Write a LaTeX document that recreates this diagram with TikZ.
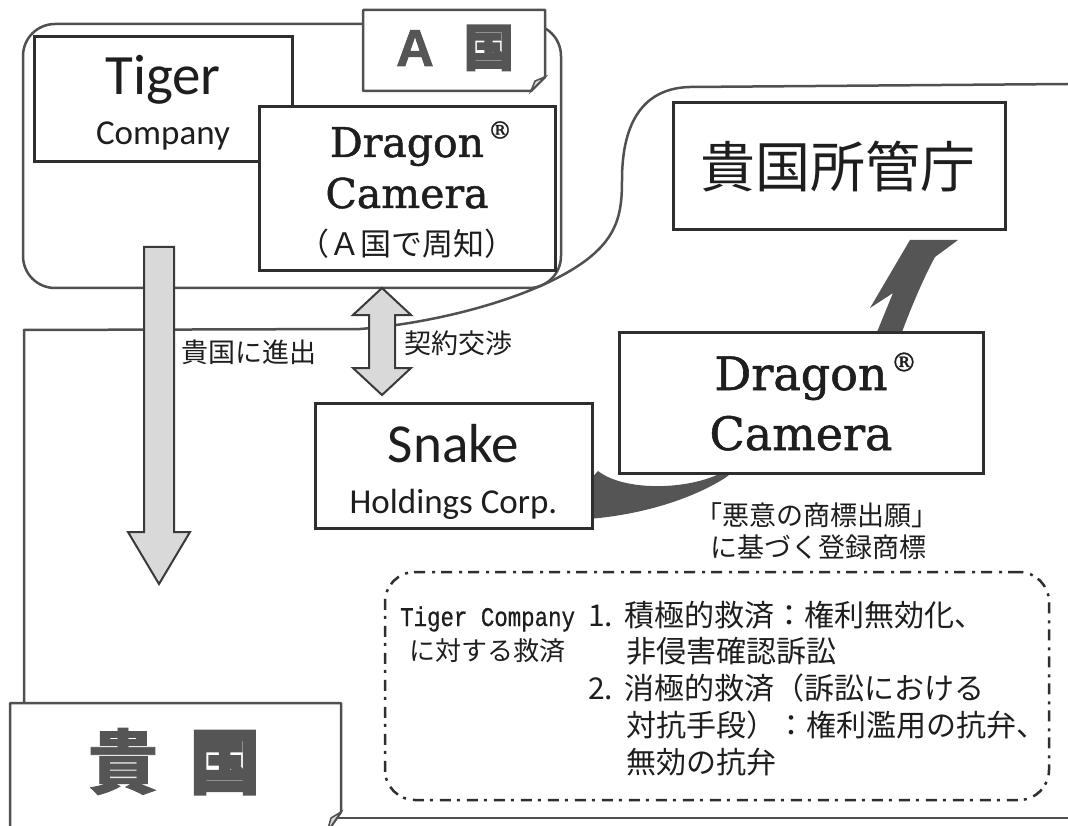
\documentclass[tikz,border=0pt]{standalone}
\usepackage{fontspec}
\newfontfamily\carl{Carlito}
\newfontfamily\dser{DejaVu Serif}[FakeBold=1.2]
\newfontfamily\jp{Noto Sans CJK JP}
\newfontfamily\jpb{Noto Sans CJK JP}[FakeBold=1.2]
\newfontfamily\jpbb{Noto Sans CJK JP}[FakeBold=2.9]
\newfontfamily\monoc{Liberation Mono}[FakeStretch=0.83,FakeBold=0.6]
\newfontfamily\lsans{Liberation Sans}[FakeBold=1.5]
\newcommand\fsz[1]{\fontsize{#1}{#1}\selectfont}
\definecolor{boxc}{HTML}{2E2E2E}
\definecolor{frmc}{HTML}{505050}
\definecolor{arrc}{HTML}{3A3A3A}
\definecolor{lightg}{HTML}{D9D9D9}
\definecolor{darkg}{HTML}{555555}
\definecolor{txtc}{HTML}{1E1E1E}
\definecolor{tagc}{HTML}{555555}
\begin{document}
\begin{tikzpicture}[x=1pt,y=-1pt,
  box/.style={draw=boxc,line width=3pt,fill=white,inner sep=0pt},
  frm/.style={draw=frmc,line width=2.5pt},
  lgarrow/.style={draw=arrc,line width=2pt,fill=lightg,line join=miter},
  txt/.style={inner sep=0pt,text=txtc},
  tagbox/.style={draw=frmc,line width=2.5pt,fill=white,line join=round},
]
\useasboundingbox[fill=white] (0,0) rectangle (1068,826);

% ---- Kikoku (your country) frame
\draw[frm] (24,710) -- (24,330) -- (360,329)
  .. controls (450,322) and (560,290) .. (600,248)
  .. controls (620,227) and (622,205) .. (622,180)
  .. controls (622,120) and (645,88) .. (690,87) -- (1068,84);
\draw[frm] (335,818) -- (1068,818);

% ---- A country frame
\draw[frm,rounded corners=32pt] (23,24) rectangle (561,288);

% ---- big grey arrow
\draw[lgarrow] (144,247) -- (174,247) -- (174,532) -- (190,532) -- (159,584)
  -- (128,532) -- (144,532) -- cycle;

% ---- double arrow
\draw[lgarrow] (382,288) -- (411,315) -- (395,315) -- (395,368) -- (411,368)
  -- (382,395) -- (353,368) -- (369,368) -- (369,315) -- (353,315) -- cycle;

% ---- tag A country
\draw[tagbox] (363,10) -- (545,10) -- (545,77) -- (531,91) -- (363,91) -- cycle;
\draw[draw=frmc,line width=1.5pt,fill=lightg] (531,91) -- (535,81) -- (545,77) -- cycle;
\node[txt,anchor=base,text=tagc] (tagA) at (455,66)
  {{\lsans\bfseries\fsz{52}A}\hspace{30pt}{\jpbb\bfseries\fsz{50}国}};

% ---- Tiger box
\node[box,minimum width=258,minimum height=125] (tiger) at (163,99.5) {};
\node[txt,anchor=base,font=\carl\fsz{57}] (tigerT) at (163,95) {Tiger};
\node[txt,anchor=base,font=\carl\fsz{35}] (tigerC) at (163,145) {Company};

% ---- Dragon box (A country)
\node[box,minimum width=296,minimum height=164] (dragA) at (407,189) {};
\node[txt,anchor=base,font=\dser\fsz{41}] (dragA1) at (407,157) {Dragon};
\node[txt,font=\dser\fsz{24}] (regA) at (500,130) {®};
\node[txt,anchor=base,font=\dser\fsz{41}] (dragA2) at (407,208) {Camera};
\node[txt,font=\jp\fsz{31}] (dragA3) at (407,244) {（Ａ国で周知）};

% ---- dark curved arrow
\fill[darkg] (588,519)
  .. controls (640,515) and (690,500) .. (725,478)
  .. controls (800,420) and (880,380) .. (902,332)
  .. controls (912,305) and (925,275) .. (935,257)
  -- (958,240) -- (910,240) -- (870,308) -- (893,293)
  .. controls (888,305) and (882,320) .. (877,332)
  .. controls (850,400) and (760,450) .. (723,472)
  .. controls (690,490) and (625,492) .. (598,471)
  -- (588,482) -- cycle;

% ---- Snake box
\node[box,minimum width=277,minimum height=125] (snake) at (453.5,465.5) {};
\node[txt,anchor=base,font=\carl\fsz{55}] (snake1) at (453.5,462) {Snake};
\node[txt,anchor=base,font=\carl\fsz{35}] (snake2) at (453.5,513) {Holdings Corp.};

% ---- Dragon box (registered)
\node[box,minimum width=364,minimum height=141] (dragB) at (801,402.5) {};
\node[txt,anchor=base,font=\dser\fsz{46}] (dragB1) at (801,390) {Dragon};
\node[txt,font=\dser\fsz{26}] (regB) at (904,362) {®};
\node[txt,anchor=base,font=\dser\fsz{46}] (dragB2) at (801,450) {Camera};

% ---- office box
\node[box,minimum width=332,minimum height=127] (office) at (839,166.5) {};
\node[txt,font=\jp\fsz{55}] (officeT) at (838,167) {貴国所管庁};

% ---- labels
\node[txt,anchor=west,font=\jp\fsz{27}] (lab1) at (181,352) {貴国に進出};
\node[txt,anchor=west,font=\jp\fsz{27}] (lab2) at (404,343) {契約交渉};
\node[txt,font=\jp\fsz{27}] (lab3) at (817,515) {「悪意の商標出願」};
\node[txt,font=\jp\fsz{27}] (lab4) at (818,547) {に基づく登録商標};

% ---- remedy box
\node[draw=boxc,line width=2.5pt,dash pattern=on 11pt off 6pt on 3pt off 7pt,
  rounded corners=30pt,minimum width=664,minimum height=228,inner sep=0pt]
  (remedy) at (717,686) {};
\node[txt,anchor=base west,font=\monoc\fsz{27}] (r0) at (400,626) {Tiger Company};
\node[txt,anchor=base west,font=\jp\fsz{26}] (r0b) at (409,660) {に対する救済};
\node[txt,anchor=base west,font=\jp\fsz{30}] (r1) at (588,626) {\makebox[36pt][l]{1.}積極的救済：権利無効化、};
\node[txt,anchor=base west,font=\jp\fsz{30}] (r2) at (626,662) {非侵害確認訴訟};
\node[txt,anchor=base west,font=\jp\fsz{30}] (r3) at (588,699) {\makebox[36pt][l]{2.}消極的救済（訴訟における};
\node[txt,anchor=base west,font=\jp\fsz{30}] (r4) at (626,736) {対抗手段）：権利濫用の抗弁、};
\node[txt,anchor=base west,font=\jp\fsz{30}] (r5) at (626,773) {無効の抗弁};

% ---- tag Kikoku
\draw[tagbox] (10,840) -- (10,703) -- (341,703) -- (341,812) -- (327,832);
\draw[draw=frmc,line width=1.5pt,fill=lightg] (327,832) -- (331,818) -- (341,812) -- cycle;
\node[txt,anchor=base,text=tagc] (tagK) at (174,788)
  {{\jpb\bfseries\fsz{70}貴}\hspace{32pt}{\jpbb\bfseries\fsz{70}国}};
\end{tikzpicture}
\end{document}
